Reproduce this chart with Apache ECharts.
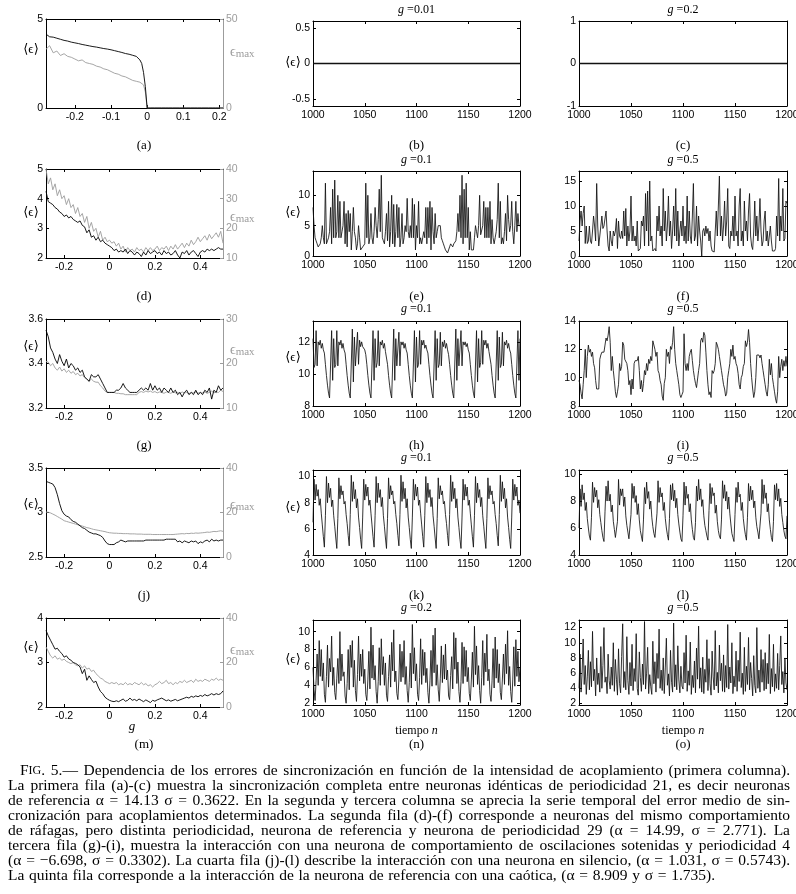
<!DOCTYPE html>
<html><head><meta charset="utf-8">
<script src="https://cdn.jsdelivr.net/npm/echarts@6.0.0/dist/echarts.min.js"></script>
<style>html,body{margin:0;padding:0;background:#fff}#c{width:796px;height:894px}</style>
</head><body><div id="c"></div>
<script>
// ---------------- DATA ----------------
const gGrid = [-0.28,-0.27,-0.26,-0.25,-0.24,-0.23,-0.22,-0.21,-0.20,-0.19,-0.18,-0.17,-0.16,-0.15,-0.14,-0.13,-0.12,-0.11,-0.10,-0.09,-0.08,-0.07,-0.06,-0.05,-0.04,-0.03,-0.02,-0.01,0,0.01,0.02,0.03,0.04,0.05,0.06,0.07,0.08,0.09,0.10,0.11,0.12,0.13,0.14,0.15,0.16,0.17,0.18,0.19,0.20,0.21,0.22,0.23,0.24,0.25,0.26,0.27,0.28,0.29,0.30,0.31,0.32,0.33,0.34,0.35,0.36,0.37,0.38,0.39,0.40,0.41,0.42,0.43,0.44,0.45,0.46,0.47,0.48,0.49,0.50];
const gGridA = [-0.28,-0.27,-0.26,-0.25,-0.24,-0.23,-0.22,-0.21,-0.20,-0.19,-0.18,-0.17,-0.16,-0.15,-0.14,-0.13,-0.12,-0.11,-0.10,-0.09,-0.08,-0.07,-0.06,-0.05,-0.04,-0.03,-0.02,-0.015,-0.01,-0.005,0,0.01,0.02,0.03,0.04,0.05,0.06,0.07,0.08,0.09,0.10,0.11,0.12,0.13,0.14,0.15,0.16,0.17,0.18,0.19,0.20,0.21];

const epsA = [4.15,4.0,3.98,3.92,3.86,3.8,3.76,3.7,3.66,3.62,3.57,3.53,3.49,3.45,3.42,3.38,3.34,3.31,3.27,3.22,3.17,3.12,3.06,3.02,2.96,2.9,2.7,2.5,2.0,1.2,0,0,0,0,0,0,0,0,0,0,0,0,0,0,0,0,0,0,0,0,0,0];
const maxA = [33,35,31,32,29.5,30.5,29,28.5,27.5,26.5,27,25.5,25,24.5,23.5,23,22,21.5,20.5,19.5,19,18,17.5,16.5,15.5,15,14.5,14,13,9,0,0,0,0,0,0,0,0,0,0,0,0,0,0,0,0,0,0,0,0,0,0];

const epsD = [4.25,3.9,3.85,3.8,3.7,3.65,3.55,3.5,3.4,3.45,3.35,3.4,3.3,3.25,3.2,3.25,3.1,3.05,2.85,2.95,2.7,2.75,2.6,2.7,2.55,2.6,2.5,2.45,2.4,2.35,2.25,2.3,2.2,2.25,2.2,2.3,2.15,2.25,2.2,2.1,2.2,2.15,2.05,2.2,2.1,2.25,2.15,2.2,2.25,2.15,2.2,2.1,2.25,2.15,2.2,2.1,2.15,2.25,2.1,2.0,2.2,2.15,2.25,2.1,2.2,2.25,2.15,2.05,2.2,2.25,2.2,2.3,2.25,2.3,2.25,2.3,2.35,2.3,2.3];
const maxD = [40,35,37,33,35,31,33,30,31,28,30,27,28,25,27,24,25,22,24,20,22,19,20,17,19,16,17,15.5,16,15,15.5,14,15,13,14,12,13.5,12.5,13,12,13.5,12.5,13,12,13.5,12.5,13.5,12.5,13,14,12.5,13.5,13,14,12.5,14,13,14.5,13,14,15,13.5,15,14,16,14.5,15.5,17,15.5,16.5,17.5,16,18,16.5,17.5,18.5,17,19,15];

const epsG = [3.55,3.52,3.47,3.45,3.42,3.40,3.44,3.41,3.39,3.42,3.38,3.40,3.39,3.37,3.38,3.36,3.37,3.34,3.33,3.32,3.35,3.34,3.34,3.35,3.33,3.31,3.29,3.27,3.27,3.27,3.27,3.28,3.28,3.29,3.31,3.29,3.28,3.27,3.27,3.27,3.27,3.28,3.29,3.28,3.29,3.28,3.31,3.28,3.30,3.28,3.29,3.27,3.29,3.28,3.27,3.29,3.27,3.28,3.26,3.27,3.25,3.27,3.28,3.26,3.27,3.26,3.28,3.26,3.27,3.26,3.28,3.27,3.29,3.24,3.28,3.27,3.30,3.28,3.29];
const maxG = [20.5,20.3,19.5,20,19,18.5,19.2,18.3,18.8,18,18.5,17.8,18.2,17.5,17.8,17.2,17.5,16.8,16.5,16,16.5,16,15.8,15.8,15,14.5,13.8,13.5,13.5,13.5,13.5,13.3,13.3,13.2,13.2,13,13,13,13,13,13,13.5,13.7,13.5,13.8,13.6,13.8,13.5,13.7,13.4,13.6,13.5,13.3,13.6,13.5,13.3,13.6,13.4,13.5,13.3,13.6,13.4,13.5,13.2,13.5,13.4,13.6,13.3,13.5,13.4,13.6,13.3,13.5,13.8,13.4,13.6,13.5,14,13.7];

const epsJ = [3.35,3.34,3.33,3.32,3.28,3.2,3.1,3.02,2.98,2.96,2.95,2.92,2.9,2.89,2.87,2.85,2.83,2.82,2.8,2.78,2.77,2.76,2.76,2.75,2.74,2.72,2.68,2.65,2.64,2.64,2.64,2.66,2.67,2.69,2.68,2.67,2.68,2.68,2.68,2.68,2.68,2.68,2.68,2.68,2.69,2.69,2.69,2.69,2.69,2.69,2.69,2.69,2.69,2.7,2.7,2.7,2.7,2.7,2.67,2.68,2.66,2.68,2.67,2.66,2.68,2.67,2.68,2.65,2.67,2.66,2.68,2.69,2.67,2.7,2.68,2.69,2.68,2.69,2.69];
const maxJ = [20.2,20.1,19.8,19.3,18.8,18.2,17.6,17,16.3,16,15.7,15.4,15.1,14.8,14.5,14.2,13.9,13.6,13.2,13,12.7,12.4,12.2,12,11.8,11.6,11.4,11.1,10.9,10.8,10.7,10.7,10.6,10.6,10.5,10.5,10.5,10.4,10.4,10.4,10.3,10.3,10.3,10.2,10.2,10.2,10.2,10.1,10.1,10.1,10.1,10.1,10.1,10.1,10.1,10.1,10.1,10.2,10.3,10.4,10.5,10.4,10.6,10.5,10.7,10.6,10.8,10.7,10.8,10.9,11,11.2,11.1,11.3,11.5,11.4,11.6,11.8,11.5];

const epsM = [3.72,3.6,3.5,3.4,3.3,3.32,3.25,3.2,3.12,3.15,3.08,3.05,3.0,2.98,2.95,2.9,2.75,2.85,2.6,2.7,2.62,2.55,2.58,2.45,2.35,2.3,2.22,2.18,2.15,2.13,2.12,2.14,2.12,2.15,2.18,2.13,2.15,2.2,2.15,2.17,2.14,2.18,2.15,2.12,2.16,2.13,2.1,2.15,2.13,2.16,2.18,2.2,2.17,2.14,2.16,2.13,2.15,2.17,2.14,2.16,2.18,2.2,2.22,2.2,2.24,2.22,2.25,2.23,2.26,2.24,2.28,2.25,2.27,2.3,2.27,2.3,2.28,2.3,2.36];
const maxM = [27,25,23,22,23,21.5,22,21,21.5,20.5,20,19.5,20,19,18.5,19,17.5,18.5,17,17.5,16,16.5,15,14,13,12.5,11.5,11,10.5,11,10.5,11,10,10.5,10,11,10,10.5,10,11,10.5,10,11,10,10.5,9.5,10,9,10,10.5,11.5,10.5,11,12,10.5,11,10,11,10.5,11.5,11,12,11,11.5,12,11,12.5,11.5,12,11.5,12.5,12,11.5,12.5,12,13,12,12.5,12];

const tStart = 1000;
const serieB = [0,0,0,0,0,0,0,0,0,0,0,0,0,0,0,0,0,0,0,0,0,0,0,0,0,0,0,0,0,0,0,0,0,0,0,0,0,0,0,0,0,0,0,0,0,0,0,0,0,0,0,0,0,0,0,0,0,0,0,0,0,0,0,0,0,0,0,0,0,0,0,0,0,0,0,0,0,0,0,0,0,0,0,0,0,0,0,0,0,0,0,0,0,0,0,0,0,0,0,0,0,0,0,0,0,0,0,0,0,0,0,0,0,0,0,0,0,0,0,0,0,0,0,0,0,0,0,0,0,0,0,0,0,0,0,0,0,0,0,0,0,0,0,0,0,0,0,0,0,0,0,0,0,0,0,0,0,0,0,0,0,0,0,0,0,0,0,0,0,0,0,0,0,0,0,0,0,0,0,0,0,0,0,0,0,0,0,0,0,0,0,0,0,0,0,0,0,0,0,0,0];
const serieC = [0,0,0,0,0,0,0,0,0,0,0,0,0,0,0,0,0,0,0,0,0,0,0,0,0,0,0,0,0,0,0,0,0,0,0,0,0,0,0,0,0,0,0,0,0,0,0,0,0,0,0,0,0,0,0,0,0,0,0,0,0,0,0,0,0,0,0,0,0,0,0,0,0,0,0,0,0,0,0,0,0,0,0,0,0,0,0,0,0,0,0,0,0,0,0,0,0,0,0,0,0,0,0,0,0,0,0,0,0,0,0,0,0,0,0,0,0,0,0,0,0,0,0,0,0,0,0,0,0,0,0,0,0,0,0,0,0,0,0,0,0,0,0,0,0,0,0,0,0,0,0,0,0,0,0,0,0,0,0,0,0,0,0,0,0,0,0,0,0,0,0,0,0,0,0,0,0,0,0,0,0,0,0,0,0,0,0,0,0,0,0,0,0,0,0,0,0,0,0,0,0];
const serieE = [8,5,3,2.5,2,1.5,1.8,2,3,5, 3,2,12,2,2.5,3,4,8,2,11, 3,12.5,3,4,10,3,9,3,4,5, 9,2,7,1.5,7.5,4,7,1,4,8, 4,3,1,2,5,3,1,1.2,1.5,1.8, 2,12,3,10,2,3,7,3,2,4, 8,5,3,6,11,4,13.3,3,2.5,2, 4,7,2.5,9,1.5,4,10,2,8.5,1.5, 4,8.5,3,8,1.5,3,7,2,3,5, 4,9.5,4,3,5,3,9.5,3,8.5,1, 5,3,9,2,3,2,3,4,3,8, 2,8,3,9,1,8,4,2,7,3, 4,5,5,5,3,2.5,2,1.5,1,0.8, 0.5,1,1.5,2,1.8,1.5,2,2.2,2.5,4, 7,4,10,3,13.3,2,11,3,12,3, 8,1,4,1,0.8,1,3,5,4,3, 5,10,3.5,3.5,5,9,3,8,3,8, 3,9,2,6,3,2,3,4,6,12, 3,9,2,3,2,4,7,2.5,10,6, 4,5,9,4,2,5,9,4,7,5, 5];
const serieF = [3,7,9,6,8.5,10,2.5,6,2.5,3, 6,3,2.5,5,8,6,3,14.5,6,2, 2,6,8,5.5,6,6,9,5,2,1, 5,3,2,5,4,5,7.5,1.5,7,4, 3.5,5,3.5,9,4,9.5,2,6,3,5, 12,3,6,3,4,2,7,1,1,1.5, 7,6,8,2,12.5,5,13,2,15,3, 4,1,1,1.5,1,8,5,10,4,6, 2,13.5,5,9,3,6,12,4,7,1.5, 5,10,4,13.5,3,9,2,5,7,4, 10,3,6,2.5,12,3,9,4,2.5,8, 14.5,3,4,10,2,8,5,3,0,5, 5.5,4,6,4.5,5.5,3,5,2,1,1, 0.8,1,9,4,10,16,4,8,3,6, 11,4,7,13.5,2,1.5,5,4,8,3, 12,4,5,2,10,13.5,3,5,2,11, 5,7,3,9,12.5,4,2,1.3,5,11, 4,8,3,6,11.5,5,2,3,7,9, 3,5,2,4,6,3,1,1,1,1.5, 8,4,15.5,3,8,5,13.5,3,3.5,11, 10.5];
const serieH = [12.2,10.4,10.6,12.7,10.5,12.0,11.8,12.1,11.6,11.9,11.5,11.3,10.6,9.9,9.3,8.8,8.5,
 8.4,12.7,9.6,12.2,10.4,10.6,12.7,10.5,12.0,11.8,12.1,11.6,11.9,11.5,11.3,10.6,9.9,9.3,8.8,8.5,
 8.4,12.8,9.5,12.3,10.5,10.6,12.6,10.6,12.1,11.7,12.0,11.7,11.8,11.5,11.2,10.6,9.9,9.3,8.8,8.5,
 8.4,12.7,9.6,12.2,10.4,10.7,12.7,10.5,12.0,11.8,12.1,11.6,11.9,11.4,11.3,10.6,9.9,9.3,8.8,8.5,
 8.4,12.8,9.6,12.2,10.5,10.6,12.6,10.5,12.0,11.8,12.0,11.6,11.9,11.5,11.3,10.6,9.9,9.3,8.8,8.5,
 8.4,12.7,9.5,12.3,10.4,10.6,12.7,10.6,12.1,11.8,12.1,11.6,11.8,11.5,11.3,10.6,9.9,9.3,8.8,8.5,
 8.4,12.7,9.6,12.2,10.4,10.6,12.6,10.5,12.0,11.7,12.1,11.6,11.9,11.5,11.2,10.6,9.9,9.3,8.8,8.5,
 8.4,12.8,9.6,12.2,10.5,10.6,12.7,10.5,12.0,11.8,12.0,11.7,11.9,11.5,11.3,10.6,9.9,9.3,8.8,8.5,
 8.4,12.7,9.5,12.2,10.4,10.7,12.7,10.6,12.1,11.8,12.1,11.6,11.9,11.4,11.3,10.6,9.9,9.3,8.8,8.5,
 8.4,12.7,9.6,12.3,10.4,10.6,12.6,10.5,12.0,11.8,12.1,11.6,11.9,11.5,11.3,10.6,9.9,9.3,8.8,8.5,
 8.4,12.7,9.6,12.2];
const serieI = [9.8,9.5,8.9,8.5,9.5,10.5,12.0,10.0,11.5,12.3, 11.8,12.0,11.5,11.8,11.0,10.7,9.8,9.2,9.1,9.2, 11.3,11.6,11.8,11.7,11.8,12.3,12.8,12.6,13.0,13.6, 12.5,10.5,11.5,10.5,9.8,9.0,8.6,9.0,9.5,11.0, 10.5,10.8,12.5,12.3,11.3,11.2,11.0,10.5,9.5,9.8, 8.8,9.9,9.2,11.0,11.2,11.3,11.2,11.5,10.5,9.2, 9.8,9.0,9.6,10.5,10.2,11.0,10.5,11.3,11.0,11.5, 11.2,12.6,12.6,12.0,11.5,11.8,10.5,10.3,9.8,9.5, 8.7,8.4,9.6,10.0,12.0,11.5,11.8,11.0,12.2,12.0, 12.5,13.6,12.0,11.0,10.5,10.0,9.5,8.8,8.6,8.8, 9.0,13.1,11.0,10.5,11.0,10.5,11.5,11.8,12.0,11.2, 10.5,10.0,9.6,9.3,9.2,10.5,11.0,12.6,12.8,12.5, 13.2,13.0,11.8,10.5,9.5,8.8,9.0,8.6,10.5,10.3, 10.5,11.0,12.5,12.3,12.0,11.5,11.6,10.5,10.0,9.5, 9.2,8.7,8.9,10.0,10.5,11.0,12.0,11.5,12.3,11.3, 11.5,11.0,10.8,10.3,9.5,9.2,10.0,10.2,10.8,11.0, 12.6,12.2,12.5,13.4,12.5,11.0,10.0,9.2,8.6,9.0, 10.0,11.6,11.5,11.6,11.4,11.6,11.0,10.5,10.0,9.5, 9.0,8.7,9.5,11.3,10.2,11.0,10.0,9.5,9.0,8.5, 8.2,9.0,11.5,10.0,10.8,11.3,10.5,11.2,10.8,11.5, 10.8];
const serieK = [6.5,9.8,8.2,9.4,8.5,9.0,7.8,8.3,7.2,6.3,5.4,4.6, 7.0,10.0,8.0,9.5,8.4,9.1,7.7,8.2,7.0,6.2,5.3,4.5, 6.8,9.9,8.3,9.3,8.6,8.9,7.9,8.1,7.1,6.4,5.5,4.7, 7.1,10.1,8.1,9.6,8.3,9.0,7.6,8.3,6.9,6.1,5.2,4.5, 6.9,9.8,8.2,9.4,8.5,9.2,7.8,8.2,7.2,6.3,5.4,4.6, 7.0,10.0,8.0,9.5,8.4,9.0,7.7,8.4,7.0,6.2,5.3,4.5, 6.8,9.9,8.3,9.3,8.6,8.9,7.9,8.1,7.1,6.4,5.5,4.7, 7.1,10.1,8.1,9.6,8.3,9.1,7.6,8.3,6.9,6.1,5.2,4.5, 6.9,9.8,8.2,9.4,8.5,9.2,7.8,8.2,7.2,6.3,5.4,4.6, 7.0,10.0,8.0,9.5,8.4,9.0,7.7,8.4,7.0,6.2,5.3,4.5, 6.8,9.9,8.3,9.3,8.6,8.9,7.9,8.1,7.1,6.4,5.5,4.7, 7.1,10.1,8.1,9.6,8.3,9.1,7.6,8.3,6.9,6.1,5.2,4.5, 6.9,9.8,8.2,9.4,8.5,9.2,7.8,8.2,7.2,6.3,5.4,4.6, 7.0,10.0,8.0,9.5,8.4,9.0,7.7,8.4,7.0,6.2,5.3,4.5, 6.8,9.9,8.3,9.3,8.6,8.9,7.9,8.1,7.1,6.4,5.5,4.7, 7.1,10.1,8.1,9.6,8.3,9.1,7.6,8.3,6.9,6.1,5.2,4.5, 6.9,9.8,8.2,9.4,8.5,9.2,7.8,8.2,7.2];
const serieL = [6.0,8.9,7.6,9.2,8.1,8.6,7.3,7.9,6.7,6.0,5.4,5.1, 6.8,9.4,7.9,9.0,8.3,8.8,7.5,8.1,7.0,6.4,5.8,5.3,5.0, 7.2,9.1,8.0,9.5,8.0,8.5,7.2,7.7,6.5,5.9,5.3,5.2, 6.5,9.6,7.7,8.9,8.4,8.9,7.6,8.3,6.9,6.2,5.7,5.2,5.1, 7.0,9.3,8.2,9.1,7.9,8.4,7.0,7.8,6.6,5.8,5.4,5.0, 6.6,9.0,7.8,9.4,8.2,8.7,7.4,8.0,6.8,6.1,5.6,5.3,5.2, 7.1,9.5,7.9,9.0,8.3,8.6,7.3,7.9,6.7,6.0,5.5,5.1, 6.7,9.2,8.1,9.3,8.0,8.8,7.5,8.2,7.0,6.3,5.7,5.2,5.0, 6.9,9.4,7.7,9.1,8.2,8.5,7.2,7.8,6.6,5.9,5.3,5.1, 6.4,9.1,8.0,9.6,8.1,8.9,7.6,8.1,6.9,6.2,5.8,5.4,5.1, 7.3,9.3,7.8,9.0,8.4,8.6,7.1,7.7,6.5,5.8,5.4,5.2, 6.6,9.5,8.2,9.2,8.0,8.7,7.4,8.3,7.1,6.3,5.6,5.3,5.0, 7.0,9.0,7.9,9.4,8.3,8.5,7.3,7.9,6.7,6.0,5.5,5.1, 6.8,9.3,8.0,9.1,8.1,8.8,7.5,8.0,6.8,6.1,5.7,5.2,5.1, 7.1,9.6,7.8,9.2,8.2,8.6,7.2,7.8,6.6,5.9,5.3,5.0, 6.5,9.2,8.1,9.3,8.0,8.9,7.6,8.2,7.0,6.4,5.8,5.4,5.2, 6.9];
const serieN = [6.0,3.5,2.3,4.5,7.5,4.0,9.0,5.0,8.0,4.5, 6.5,3.0,2.1,5.0,8.5,3.8,7.0,5.5,9.5,4.0, 6.0,3.2,2.4,4.8,7.0,4.2,10.0,4.5,7.5,5.0, 5.5,2.8,2.0,4.2,8.0,3.5,8.5,6.0,9.0,3.8, 6.8,3.4,2.2,5.2,9.5,4.5,7.5,5.0,8.0,4.2, 5.8,3.0,2.3,4.6,7.8,3.6,10.5,4.8,8.5,4.6, 6.2,3.3,2.0,4.4,8.2,4.0,9.2,5.2,7.2,4.0, 6.5,2.9,2.2,5.0,7.4,3.8,8.8,5.6,10.2,4.4, 5.6,3.1,2.4,4.7,8.6,4.4,7.8,4.9,9.0,4.1, 6.1,3.4,2.1,4.3,7.6,3.7,10.8,5.3,8.2,4.5, 6.4,3.0,2.3,4.9,9.2,4.1,8.0,5.1,7.7,4.3, 5.9,3.2,2.0,4.5,7.9,3.9,9.6,5.4,10.4,4.0, 6.3,3.5,2.2,4.8,8.4,4.3,7.4,4.7,8.6,4.6, 5.7,2.8,2.4,5.1,7.2,3.6,9.9,5.8,9.3,4.2, 6.6,3.3,2.1,4.4,8.8,4.2,8.3,5.0,7.9,4.4, 6.0,3.1,2.3,4.6,7.7,3.8,10.6,5.2,8.4,4.1, 6.2,3.4,2.0,4.9,9.0,4.0,7.6,5.5,9.7,4.5, 5.8,3.0,2.2,4.5,8.1,3.7,9.4,4.8,8.0,4.3, 6.4,3.2,2.4,4.7,7.5,4.1,8.6,5.3,10.1,4.0, 6.1,3.3,2.1,4.6,8.3,3.9,9.1,5.0,7.8,4.4, 6.0];
const serieO = [4.0,8.5,3.5,6.0,10.5,4.5,7.0,3.2,5.5,9.0, 3.8,7.5,4.2,11.5,5.0,6.5,3.0,8.0,4.5,6.0, 3.5,9.5,4.0,7.0,12.0,4.8,5.5,3.3,8.5,5.0, 3.9,6.8,4.4,10.0,3.6,7.8,5.2,3.1,9.2,4.6, 3.4,8.2,12.5,4.1,6.2,3.8,10.8,5.0,3.2,7.4, 4.3,9.8,3.7,6.6,4.9,11.2,4.0,3.1,8.8,5.4, 3.6,7.2,4.5,12.8,3.9,6.0,9.4,3.3,5.8,4.2, 3.2,10.2,4.6,7.5,3.5,8.6,5.3,11.8,4.0,6.4, 3.7,8.0,3.3,6.8,10.6,4.4,5.9,3.0,9.0,4.8, 3.5,12.6,4.2,7.1,3.8,9.6,5.1,3.4,6.9,4.3, 3.9,8.7,4.7,11.0,3.6,6.3,4.4,10.1,3.2,5.7, 4.1,7.6,3.4,9.3,5.2,12.2,4.0,6.7,3.5,8.1, 3.3,6.5,4.8,10.4,3.7,7.9,4.6,3.1,8.9,5.5, 3.8,11.6,4.3,6.1,3.4,9.7,5.0,7.3,3.6,8.4, 3.5,7.0,4.1,12.4,3.9,6.8,4.7,10.0,3.3,5.6, 4.2,8.9,3.6,7.7,4.9,11.4,4.1,6.0,3.2,9.4, 3.6,6.9,4.5,10.7,3.8,7.4,5.3,3.0,8.3,4.4, 3.4,12.0,4.0,6.4,3.5,9.1,4.8,7.8,3.7,8.7, 3.9,7.3,4.6,11.1,3.3,6.6,4.2,9.8,3.6,5.9, 4.0,8.6,3.8,7.0,10.9,4.5,6.2,3.4,8.0,4.7, 3.8];

const gTicksA = [-0.2,-0.1,0,0.1,0.2];
const gTicks = [-0.2,0,0.2,0.4];
const tTicks = [1000,1050,1100,1150,1200];

const panelLetters = ['(a)','(b)','(c)','(d)','(e)','(f)','(g)','(h)','(i)','(j)','(k)','(l)','(m)','(n)','(o)'];
const panelG = {b:'0.01',c:'0.2',e:'0.1',f:'0.5',h:'0.1',i:'0.5',k:'0.1',l:'0.5',n:'0.2',o:'0.5'};

const captionLines = [
 'FIG. 5.— Dependencia de los errores de sincronización en función de la intensidad de acoplamiento (primera columna).',
 'La primera fila (a)-(c) muestra la sincronización completa entre neuronas idénticas de periodicidad 21, es decir neuronas',
 'de referencia α = 14.13 σ = 0.3622. En la segunda y tercera columna se aprecia la serie temporal del error medio de sin-',
 'cronización para acoplamientos determinados. La segunda fila (d)-(f) corresponde a neuronas del mismo comportamiento',
 'de ráfagas, pero distinta periodicidad, neurona de referencia y neurona de periodicidad 29 (α = 14.99, σ = 2.771). La',
 'tercera fila (g)-(i), muestra la interacción con una neurona de comportamiento de oscilaciones sotenidas y periodicidad 4',
 '(α = −6.698, σ = 0.3302). La cuarta fila (j)-(l) describe la interacción con una neurona en silencio, (α = 1.031, σ = 0.5743).',
 'La quinta fila corresponde a la interacción de la neurona de referencia con una caótica, (α = 8.909 y σ = 1.735).'
];

// ---------------- LAYOUT / STYLE ----------------
const SANS = '"Liberation Sans", Arial, sans-serif';
const SERIF = '"Liberation Serif", "DejaVu Serif", serif';
const GREY = '#9c9c9c';
const colL = [46, 313, 579], colW = [177, 207, 208];
const top1 = [19, 169, 319, 468, 618], h1 = 89;
const top2 = [21, 171, 321, 470, 620], h2 = 85;
const titleY = [10, 160, 309, 458, 608];
const letterY = [146, 297, 446, 596, 745];

const grids = [], xAxes = [], yAxes = [], series = [], graphics = [];

function pairs(xs, vs){ return vs.map((v,i)=>[xs[i], v]); }
function tsPairs(vs){ return vs.map((v,i)=>[tStart + i, v]); }

function axisCommon(color){
  return { type:'value', splitLine:{show:false},
    axisLine:{show:true, onZero:false, lineStyle:{color:color, width:1}} };
}
function addPanel(p){
  const gi = grids.length;
  grids.push({left:p.l, top:p.t, width:p.w, height:p.h, containLabel:false, outerBoundsMode:'none'});
  const xb = xAxes.length;
  ['bottom','top'].forEach(pos=>{
    xAxes.push(Object.assign(axisCommon('#000'), {
      gridIndex:gi, position:pos, min:p.xmin, max:p.xmax,
      axisTick:{show:true, inside:true, length:3, customValues:p.xticks, lineStyle:{color:'#000', width:1}},
      axisLabel:{show:pos==='bottom', customValues:p.xticks, margin:4, color:'#000', fontSize:10.5, fontFamily:SANS, formatter:v=>String(v)}
    }));
  });
  const yl = yAxes.length;
  yAxes.push(Object.assign(axisCommon('#000'), {
    gridIndex:gi, position:'left', min:p.ymin, max:p.ymax,
    axisTick:{show:true, inside:true, length:3, customValues:p.yticks, lineStyle:{color:'#000', width:1}},
    axisLabel:{show:true, customValues:p.yticks, margin:3, color:'#000', fontSize:10.5, fontFamily:SANS, formatter:v=>String(v)}
  }));
  const rc = p.y2 ? GREY : '#000';
  const y2min = p.y2 ? p.y2.min : p.ymin, y2max = p.y2 ? p.y2.max : p.ymax, y2t = p.y2 ? p.y2.ticks : p.yticks;
  yAxes.push(Object.assign(axisCommon(rc), {
    gridIndex:gi, position:'right', min:y2min, max:y2max,
    axisTick:{show:true, inside:true, length:3, customValues:y2t, lineStyle:{color:rc, width:1}},
    axisLabel:{show:!!p.y2, customValues:y2t, margin:3, color:GREY, fontSize:10.5, fontFamily:SANS, formatter:v=>String(v)}
  }));
  (p.lines||[]).forEach(L=>{
    series.push({type:'line', xAxisIndex:xb, yAxisIndex: L.right ? yl+1 : yl, data:L.data,
      showSymbol:false, symbol:'none', silent:true, animation:false, clip:true,
      lineStyle:{color:L.color||'#000', width:L.width||1}});
  });
}

const col1 = [
  {xmin:-0.28, xmax:0.21, xticks:gTicksA, ymin:0, ymax:5, yticks:[0,5], y2:{min:0,max:50,ticks:[0,50]}, g:gGridA, eps:epsA, mx:maxA},
  {xmin:-0.28, xmax:0.5, xticks:gTicks, ymin:2, ymax:5, yticks:[2,3,4,5], y2:{min:10,max:40,ticks:[10,20,30,40]}, g:gGrid, eps:epsD, mx:maxD},
  {xmin:-0.28, xmax:0.5, xticks:gTicks, ymin:3.2, ymax:3.6, yticks:[3.2,3.4,3.6], y2:{min:10,max:30,ticks:[10,20,30]}, g:gGrid, eps:epsG, mx:maxG},
  {xmin:-0.28, xmax:0.5, xticks:gTicks, ymin:2.5, ymax:3.5, yticks:[2.5,3,3.5], y2:{min:0,max:40,ticks:[0,20,40]}, g:gGrid, eps:epsJ, mx:maxJ},
  {xmin:-0.28, xmax:0.5, xticks:gTicks, ymin:2, ymax:4, yticks:[2,3,4], y2:{min:0,max:40,ticks:[0,20,40]}, g:gGrid, eps:epsM, mx:maxM}
];
col1.forEach((c,r)=>{
  addPanel(Object.assign({l:colL[0], t:top1[r], w:colW[0], h:h1, lines:[
    {data:pairs(c.g, c.mx), right:true, color:GREY, width:0.9},
    {data:pairs(c.g, c.eps), color:'#000', width:0.9}
  ]}, c));
});
const ts = [
  [{ymin:-0.6,ymax:0.6,yticks:[-0.5,0,0.5],s:serieB,w:1.6},{ymin:-1,ymax:1,yticks:[-1,0,1],s:serieC,w:1.6}],
  [{ymin:0,ymax:14,yticks:[0,5,10],s:serieE},{ymin:0,ymax:17,yticks:[0,5,10,15],s:serieF}],
  [{ymin:8,ymax:13.3,yticks:[8,10,12],s:serieH},{ymin:8,ymax:14,yticks:[8,10,12,14],s:serieI}],
  [{ymin:4,ymax:10.5,yticks:[4,6,8,10],s:serieK},{ymin:4,ymax:10.3,yticks:[4,6,8,10],s:serieL}],
  [{ymin:1.8,ymax:11.3,yticks:[2,4,6,8,10],s:serieN},{ymin:1.8,ymax:13,yticks:[2,4,6,8,10,12],s:serieO}]
];
ts.forEach((row,r)=>{
  row.forEach((c,k)=>{
    addPanel({l:colL[k+1], t:top2[r], w:colW[k+1], h:h2, xmin:1000, xmax:1200, xticks:tTicks,
      ymin:c.ymin, ymax:c.ymax, yticks:c.yticks, lines:[{data:tsPairs(c.s), color:'#111', width:c.w||0.85}]});
  });
});

// ---- texts ----
const letterX = [144, 416.5, 683];
panelLetters.forEach((t,i)=>{
  const r = Math.floor(i/3), k = i%3;
  graphics.push({type:'text', x:letterX[k], y:letterY[r], silent:true,
    style:{text:t, fontSize:13, fontFamily:SERIF, fill:'#000', textAlign:'center', textVerticalAlign:'middle'}});
});
const keys = [['b','c'],['e','f'],['h','i'],['k','l'],['n','o']];
keys.forEach((row,r)=>row.forEach((key,k)=>{
  graphics.push({type:'text', x:letterX[k+1], y:titleY[r], silent:true,
    style:{text:'{i|g} =' + panelG[key], fontSize:12, fontFamily:SERIF, fill:'#000', textAlign:'center', textVerticalAlign:'middle',
      rich:{i:{fontStyle:'italic', fontSize:12, fontFamily:SERIF}}}});
}));
const yl1 = [50, 213, 347, 505, 648], ymx = [52, 217, 350, 505, 650], yl2 = [63, 213, 358, 508, 660];
for (let r=0;r<5;r++){
  graphics.push({type:'text', x:31, y:yl1[r], silent:true,
    style:{text:'⟨ϵ⟩', fontSize:13, fontFamily:SERIF, fill:'#000', textAlign:'center', textVerticalAlign:'middle'}});
  graphics.push({type:'text', x:230, y:ymx[r], silent:true,
    style:{text:'{e|ϵ}{m|max}', fill:GREY, textAlign:'left', textVerticalAlign:'middle',
      rich:{e:{fontSize:14, fontFamily:SERIF, color:GREY}, m:{fontSize:11, fontFamily:SERIF, color:GREY, padding:[5,0,0,0]}}}});
  graphics.push({type:'text', x:293, y:yl2[r], silent:true,
    style:{text:'⟨ϵ⟩', fontSize:13, fontFamily:SERIF, fill:'#000', textAlign:'center', textVerticalAlign:'middle'}});
}
graphics.push({type:'text', x:132, y:727, silent:true,
  style:{text:'g', fontSize:13, fontStyle:'italic', fontFamily:SERIF, fill:'#000', textAlign:'center', textVerticalAlign:'middle'}});
[416.5, 683].forEach(x=>graphics.push({type:'text', x:x, y:731, silent:true,
  style:{text:'tiempo {i|n}', fontSize:12, fontFamily:SERIF, fill:'#000', textAlign:'center', textVerticalAlign:'middle',
    rich:{i:{fontStyle:'italic', fontSize:12, fontFamily:SERIF}}}}));

// caption, justified between the margins like the printed figure
const CAP_SIZE = 15.5, CAP_SC = 12, CAP_FAM = '"Liberation Serif", serif';
const mctx = document.createElement('canvas').getContext('2d');
function tw(t, size){ mctx.font = size + 'px ' + CAP_FAM; return mctx.measureText(t).width; }
captionLines.forEach((line,i)=>{
  const words = line.split(' ');
  let parts = words.slice();
  const widths = words.map(w=>tw(w, CAP_SIZE));
  if (i === 0) {
    parts[0] = '{f|F}{s|IG}{f|.}';
    widths[0] = tw('F', CAP_SIZE) + tw('IG', CAP_SC) + tw('.', CAP_SIZE);
  }
  const x0 = i === 0 ? 20 : 8, x1 = 790;
  const total = widths.reduce((a,b)=>a+b, 0);
  const last = i === captionLines.length - 1;
  const gap = last ? tw(' ', CAP_SIZE) + 0.8 : (x1 - x0 - total) / (words.length - 1);
  graphics.push({type:'text', x:x0, y:771 + i*15, silent:true,
    style:{text: parts.join('{g| }'), fontSize:CAP_SIZE, fontFamily:CAP_FAM, fill:'#000', textAlign:'left', textVerticalAlign:'middle',
      rich:{f:{fontSize:CAP_SIZE, fontFamily:CAP_FAM}, s:{fontSize:CAP_SC, fontFamily:CAP_FAM}, g:{width:gap, fontSize:CAP_SIZE, fontFamily:CAP_FAM}}}});
});

const chart = echarts.init(document.getElementById('c'), null, {renderer:'canvas', width:796, height:894});
chart.setOption({
  animation:false, backgroundColor:'#fff',
  grid:grids, xAxis:xAxes, yAxis:yAxes, series:series, graphic:graphics
});
</script></body></html>
